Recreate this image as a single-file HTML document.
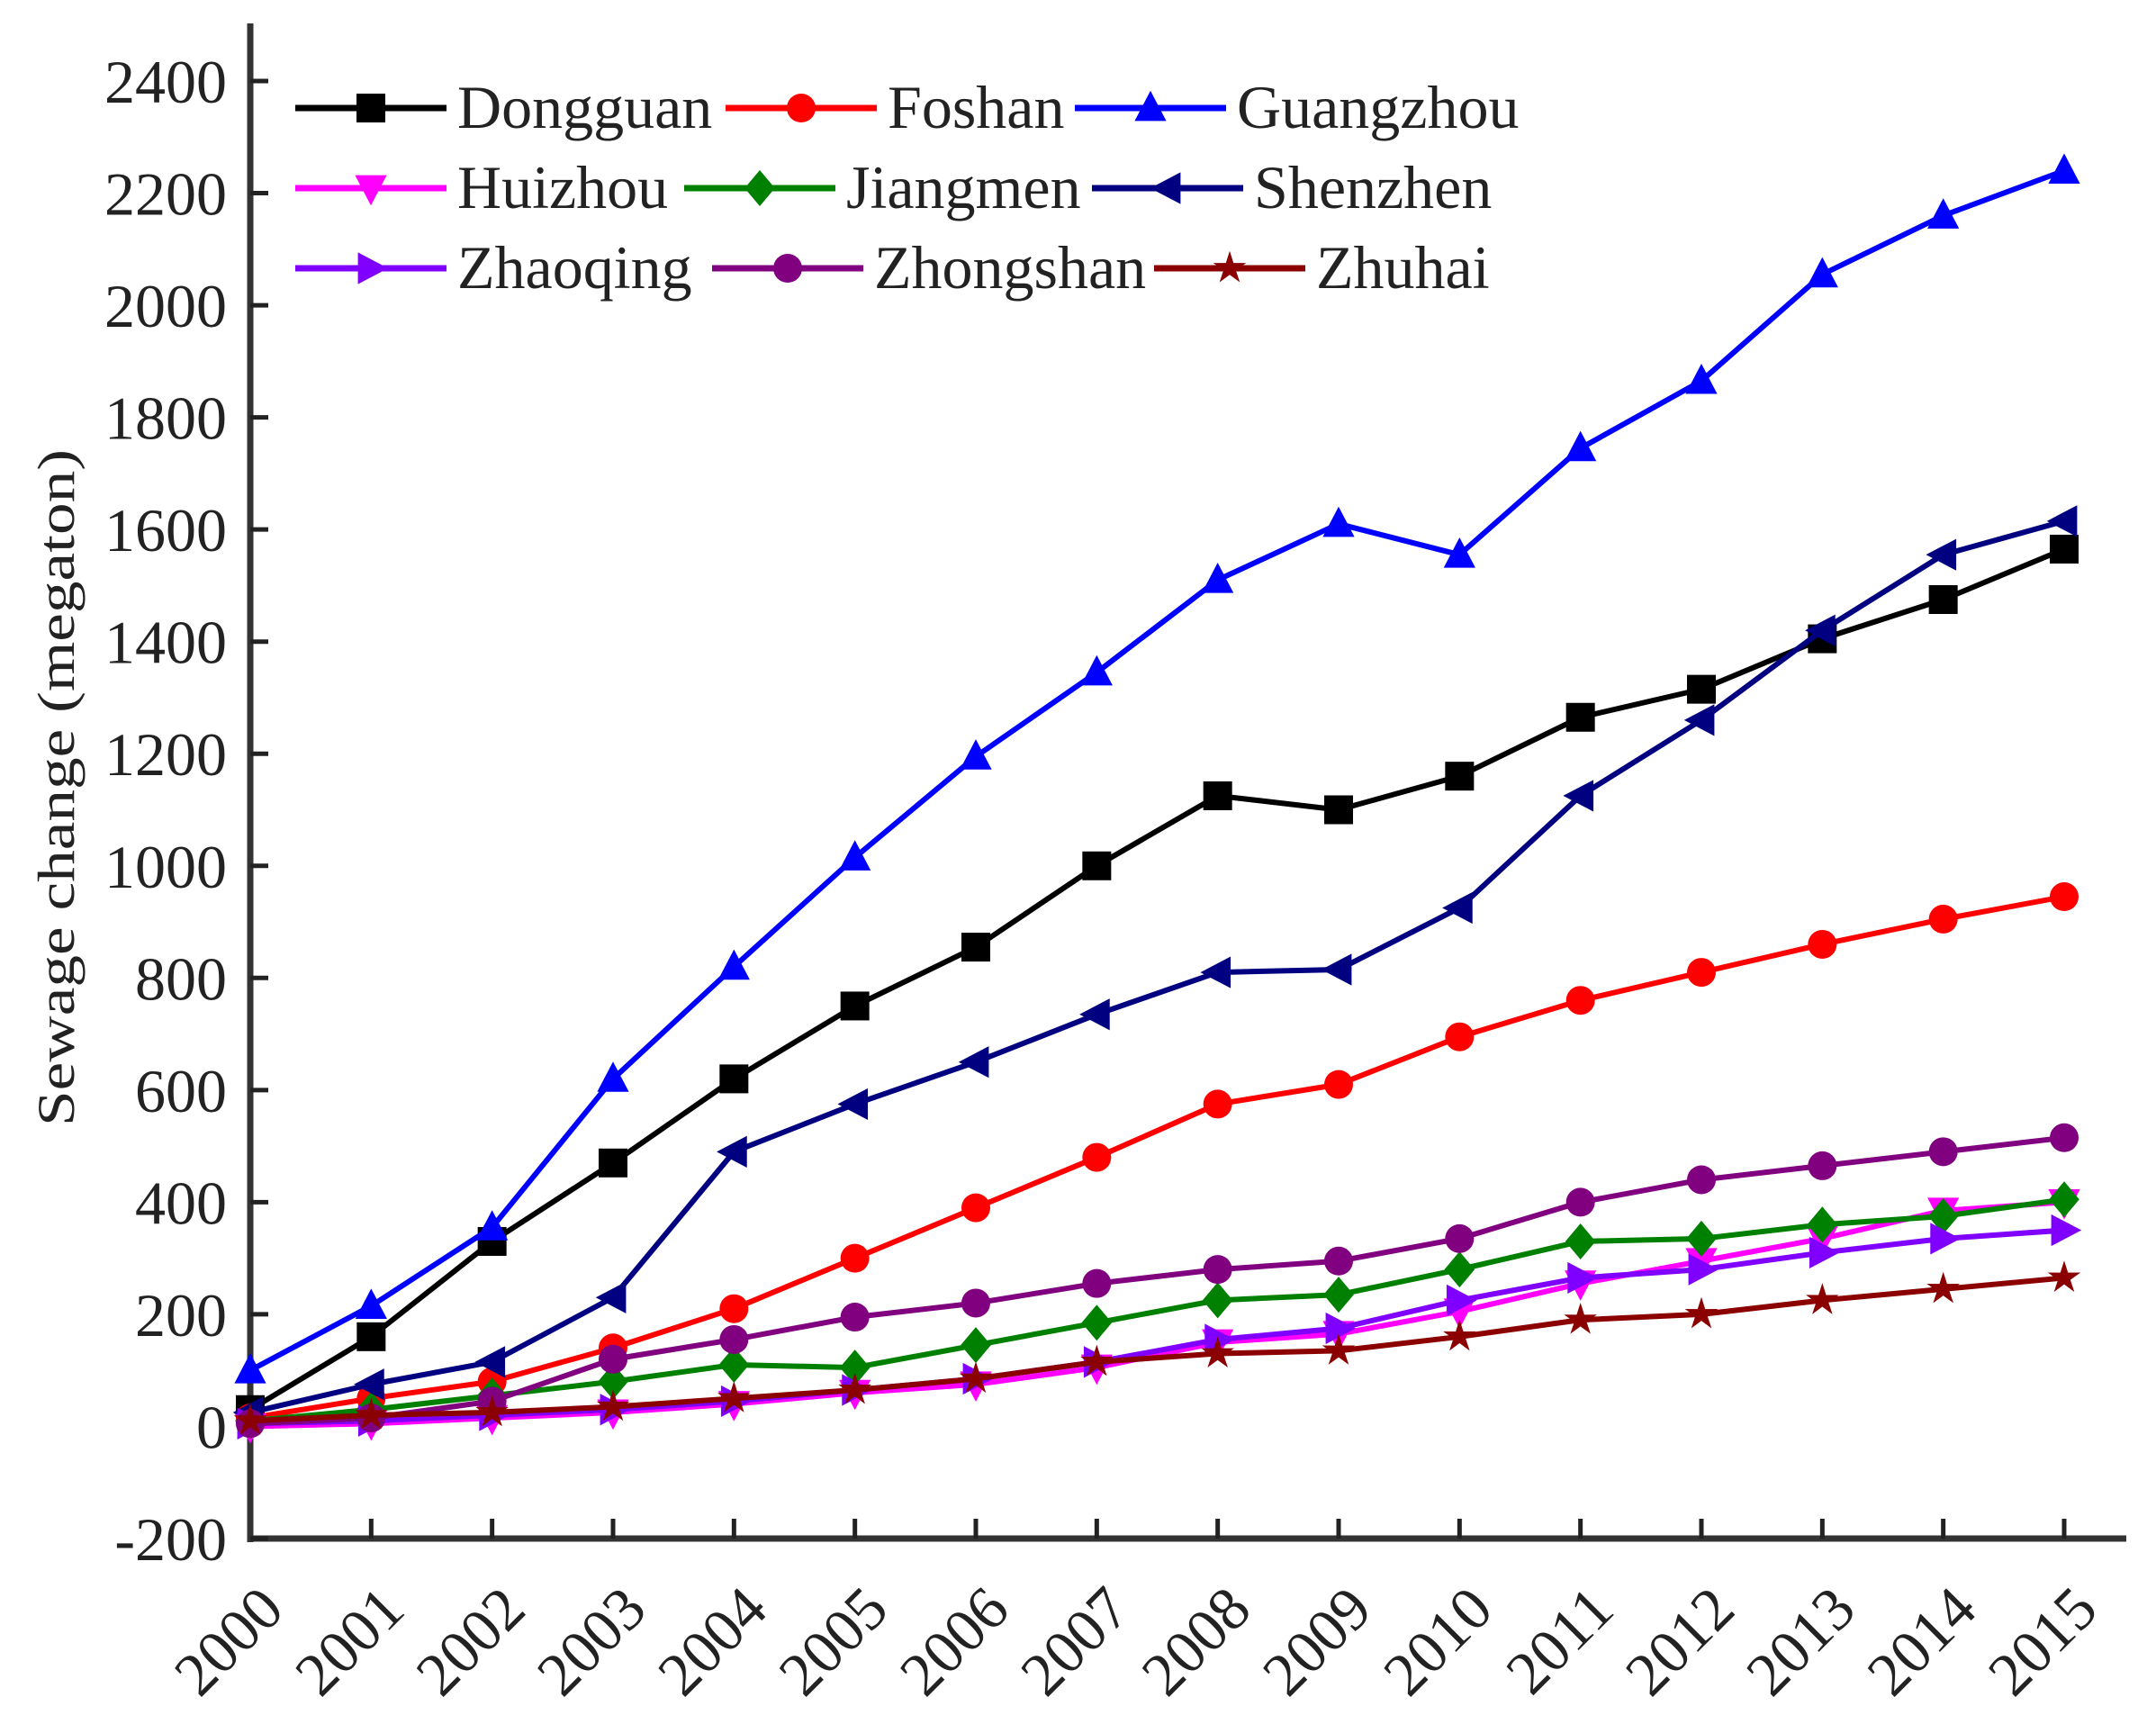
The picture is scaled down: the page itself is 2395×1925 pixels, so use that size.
<!DOCTYPE html>
<html><head><meta charset="utf-8"><style>
html,body{margin:0;padding:0;background:#fff}
svg{display:block}
text{font-family:"Liberation Serif",serif;fill:#222}
</style></head><body>
<svg id="chart" width="2395" height="1925" viewBox="0 0 2395 1925" xmlns="http://www.w3.org/2000/svg">
<g id="axes"></g>
<g id="series"></g>
<g id="legend"></g>
<text transform="translate(82,875) rotate(-90)" text-anchor="middle" font-size="58" textLength="752" lengthAdjust="spacingAndGlyphs">Sewage change (megaton)</text>
</svg>
<script>
const years = [2000,2001,2002,2003,2004,2005,2006,2007,2008,2009,2010,2011,2012,2013,2014,2015];
const yTicks = [-200,0,200,400,600,800,1000,1200,1400,1600,1800,2000,2200,2400];
const seriesNames = ["Dongguan","Foshan","Guangzhou","Huizhou","Jiangmen","Shenzhen","Zhaoqing","Zhongshan","Zhuhai"];
const dongguan = [30,160,330,470,620,750,855,1000,1125,1100,1160,1265,1315,1405,1475,1565];
const foshan = [15,50,80,140,210,300,390,480,575,610,695,760,810,860,905,945];
const guangzhou = [100,215,355,620,820,1015,1195,1345,1510,1610,1555,1745,1865,2055,2160,2240];
const huizhou = [0,5,15,25,40,60,75,105,150,165,205,255,295,335,385,400];
const jiangmen = [10,30,55,80,110,105,145,185,225,235,280,330,335,360,375,405];
const shenzhen = [25,75,115,230,490,575,650,735,810,815,925,1125,1260,1420,1555,1615];
const zhaoqing = [5,10,20,30,45,65,85,115,155,175,225,265,280,310,335,350];
const zhongshan = [5,15,45,120,155,195,220,255,280,295,335,400,440,465,490,515];
const zhuhai = [10,20,25,35,50,65,85,115,130,135,160,190,200,225,245,265];

const seriesData = [dongguan,foshan,guangzhou,huizhou,jiangmen,shenzhen,zhaoqing,zhongshan,zhuhai];
const colors = ["#000000","#ff0000","#0000ff","#ff00ff","#008000","#000080","#8000ff","#800080","#8b0000"];
const markers = ["square","circle","up","down","diamond","left","right","circle","star"];

const NS="http://www.w3.org/2000/svg";
const X0=278, X1=2293, Y0=1709, Y1=90;
function xs(i){return X0+(X1-X0)*i/(years.length-1);}
function ys(v){return Y0-(v-(-200))*(Y0-Y1)/2600;}
function mk(tag,attrs,parent){const e=document.createElementNS(NS,tag);for(const k in attrs)e.setAttribute(k,attrs[k]);parent.appendChild(e);return e;}

const axes=document.getElementById('axes');
let a=mk('line',{x1:X0,y1:26,x2:X0,y2:Y0+4,stroke:'#333','stroke-width':7},axes);


a=mk('line',{x1:X0-3,y1:Y0,x2:2362,y2:Y0,stroke:'#333','stroke-width':7},axes);


yTicks.forEach(v=>{
  const y=ys(v);
  const t=mk('line',{x1:X0,y1:y,x2:X0+20,y2:y,stroke:'#222','stroke-width':5},axes);
  
  
  const l=mk('text',{x:252,y:y+24,'text-anchor':'end','font-size':68},axes);
  l.textContent=v;
  
  
});
years.forEach((yr,i)=>{
  const x=xs(i);
  if(i>0){const t=mk('line',{x1:x,y1:Y0,x2:x,y2:Y0-22,stroke:'#222','stroke-width':5},axes);
  
  }
  const l=mk('text',{transform:`translate(${x+40},1791) rotate(-45)`,'text-anchor':'end','font-size':68},axes);
  l.textContent=yr;
  
  
});

function drawMarker(type,x,y,c,parent){
  const s=16;let e;
  if(type==='square') e=mk('rect',{x:x-s,y:y-s,width:2*s,height:2*s,fill:c},parent);
  else if(type==='circle') e=mk('circle',{cx:x,cy:y,r:s,fill:c},parent);
  else {
    let p;
    if(type==='up') p=[[x,y-s*1.2],[x+s*1.1,y+s*0.9],[x-s*1.1,y+s*0.9]];
    else if(type==='down') p=[[x,y+s*1.2],[x+s*1.1,y-s*0.9],[x-s*1.1,y-s*0.9]];
    else if(type==='left') p=[[x-s*1.2,y],[x+s*0.9,y-s*1.1],[x+s*0.9,y+s*1.1]];
    else if(type==='right') p=[[x+s*1.2,y],[x-s*0.9,y-s*1.1],[x-s*0.9,y+s*1.1]];
    else if(type==='diamond') p=[[x,y-s*1.25],[x+s*1.05,y],[x,y+s*1.25],[x-s*1.05,y]];
    else { p=[];for(let k=0;k<10;k++){const r=k%2?s*0.45:s*1.2;const ang=-Math.PI/2+k*Math.PI/5;p.push([x+r*Math.cos(ang),y+r*Math.sin(ang)]);} }
    e=mk('polygon',{points:p.map(q=>q.join(',')).join(' '),fill:c},parent);
  }
  return e;
}

const sg=document.getElementById('series');
seriesData.forEach((vals,si)=>{
  const g=mk('g',{},sg);
  
  
  const pl=mk('polyline',{points:vals.map((v,i)=>xs(i)+','+ys(v)).join(' '),fill:'none',stroke:colors[si],'stroke-width':6,'stroke-linejoin':'round'},g);
  
  
  vals.forEach((v,i)=>{
    const m=drawMarker(markers[si],xs(i),ys(v),colors[si],g);
    
    
  });
});

const lg=document.getElementById('legend');
const legendPos=[[328,120],[806,120],[1194,120],[328,209],[760,209],[1213,209],[328,298],[791,298],[1282,298]];
seriesNames.forEach((n,si)=>{
  const [lx,ly]=legendPos[si];
  const g=mk('g',{},lg);
  
  
  mk('line',{x1:lx,y1:ly,x2:lx+168,y2:ly,stroke:colors[si],'stroke-width':7},g);
  drawMarker(markers[si],lx+84,ly,colors[si],g);
  const t=mk('text',{x:lx+180,y:ly+22,'font-size':68},g);
  t.textContent=n;
  
  
});
</script>
</body></html>
